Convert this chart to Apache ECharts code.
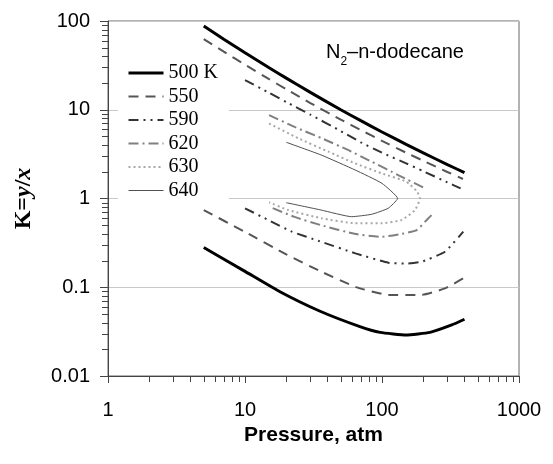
<!DOCTYPE html>
<html>
<head>
<meta charset="utf-8">
<script src="https://cdn.jsdelivr.net/npm/echarts@6/dist/echarts.min.js"></script>
<style>
html, body { margin: 0; padding: 0; background: #fff; }
#chart { width: 553px; height: 464px; }
</style>
</head>
<body>
<div id="chart"></div>
<script>
// isotherms: pressure (atm) and K = y/x, upper branch then lower branch
// null = gap between the two branches
const names = ['500 K', '550', '590', '620', '630', '640'];

const p500 = [5, 7, 10, 15, 20, 30, 50, 70, 100, 150, 200, 300, 400, null, 5, 10, 18, 35, 69, 97, 150, 224, 323, 400];
const k500 = [87.7, 62.4, 43.9, 29.7, 22.7, 15.7, 10.0, 7.54, 5.62, 4.07, 3.27, 2.41, 1.96, null, 0.28, 0.151, 0.089, 0.054, 0.036, 0.031, 0.029, 0.031, 0.0376, 0.0436];

const p550 = [5, 7, 10, 15, 20, 30, 50, 70, 100, 150, 200, 300, 390, null, 5, 10, 20, 35, 64, 111, 195, 288, 392];
const k550 = [62.6, 45.1, 32.2, 22.1, 17.0, 11.9, 7.75, 5.91, 4.46, 3.28, 2.66, 1.99, 1.66, null, 0.74, 0.42, 0.235, 0.153, 0.101, 0.082, 0.082, 0.097, 0.126];

const p590 = [10, 15, 20, 30, 50, 70, 100, 150, 200, 300, 375, null, 10, 15, 22, 35, 64, 111, 150, 195, 288, 392];
const k590 = [21.6, 15.5, 12.2, 8.8, 5.75, 4.3, 3.28, 2.49, 2.03, 1.52, 1.3, null, 0.776, 0.566, 0.423, 0.33, 0.241, 0.189, 0.185, 0.194, 0.251, 0.423];

const p620 = [15, 23, 36, 57, 84, 130, 206, null, 230, 218, 179, 140, 100, 63, 36, 23, 15];
const k620 = [8.7, 6.4, 4.8, 3.5, 2.6, 1.85, 1.3, null, 0.65, 0.6, 0.44, 0.40, 0.37, 0.40, 0.50, 0.62, 0.81];

const p630 = [15, 24.5, 40.6, 63.5, 99.5, 150, 180, 189, 174, 139, 100, 63.5, 36.3, 20.7, 15];
const k630 = [7.0, 4.77, 3.37, 2.49, 1.92, 1.55, 1.2, 1.0, 0.74, 0.573, 0.526, 0.526, 0.598, 0.74, 0.906];

const p640 = [20, 36, 63.5, 100, 130, 111, 84, 60, 36, 20];
const k640 = [4.3, 3.09, 2.1, 1.48, 1.0, 0.776, 0.664, 0.624, 0.741, 0.897];

// minor tick values of the log axes
const xMinorTicks = [2, 3, 4, 5, 6, 7, 8, 9, 20, 30, 40, 50, 60, 70, 80, 90, 200, 300, 400, 500, 600, 700, 800, 900];
const yMinorTicks = [0.02, 0.03, 0.04, 0.05, 0.06, 0.07, 0.08, 0.09, 0.2, 0.3, 0.4, 0.5, 0.6, 0.7, 0.8, 0.9,
  2, 3, 4, 5, 6, 7, 8, 9, 20, 30, 40, 50, 60, 70, 80, 90];

const X_MIN = 1, X_MAX = 1000, Y_MIN = 0.01, Y_MAX = 100;

function pairs(p, k) {
  return p.map((v, i) => (v == null ? ['-', '-'] : [v, k[i]]));
}

const styles = [
  { color: '#000000', width: 3, type: 'solid' },
  { color: '#555555', width: 2, type: [10, 7] },
  { color: '#333333', width: 2, type: [10, 5, 2, 5, 2, 5] },
  { color: '#808080', width: 2, type: [10, 4, 2, 4] },
  { color: '#a8a8a8', width: 2, type: [2, 3] },
  { color: '#505050', width: 1, type: 'solid' }
];
const datasets = [pairs(p500, k500), pairs(p550, k550), pairs(p590, k590),
  pairs(p620, k620), pairs(p630, k630), pairs(p640, k640)];

const lineSeries = names.map((n, i) => ({
  name: n,
  type: 'line',
  data: datasets[i],
  symbol: 'none',
  smooth: 0.15,
  connectNulls: false,
  color: styles[i].color,
  lineStyle: { color: styles[i].color, width: styles[i].width, type: styles[i].type },
  z: 3
}));

const tickColor = '#444';

const option = {
  animation: false,
  backgroundColor: '#fff',
  title: {
    text: '{n|N}{s|2}{n|–n-dodecane}',
    left: 326,
    top: 36,
    padding: 0,
    textStyle: {
      fontWeight: 'normal',
      rich: {
        n: { fontFamily: 'Liberation Sans', fontSize: 20, fontWeight: 'normal', lineHeight: 32, color: '#000' },
        s: { fontFamily: 'Liberation Sans', fontSize: 12, fontWeight: 'normal', lineHeight: 12, verticalAlign: 'bottom', color: '#000' }
      }
    }
  },
  grid: {
    left: 108, right: 34, top: 21, bottom: 88,
    show: true, borderColor: '#666', borderWidth: 1, backgroundColor: 'transparent'
  },
  legend: {
    data: names,
    orient: 'vertical',
    left: 118,
    top: 57,
    padding: [6, 11, 6, 9],
    itemWidth: 35,
    itemHeight: 14,
    itemGap: 3.5,
    backgroundColor: '#fff',
    itemStyle: { opacity: 0 },
    lineStyle: { width: 'inherit' },
    textStyle: { fontFamily: 'Liberation Serif', fontSize: 20, color: '#000' }
  },
  xAxis: {
    type: 'log',
    min: X_MIN, max: X_MAX,
    logBase: 10,
    name: 'Pressure, atm',
    nameLocation: 'middle',
    nameGap: 48,
    nameTextStyle: { fontFamily: 'Liberation Sans', fontSize: 21, fontWeight: 'bold', color: '#000' },
    axisLine: { lineStyle: { color: tickColor, width: 1 } },
    axisTick: { show: true, inside: false, length: 7, lineStyle: { color: tickColor } },
    axisLabel: {
      margin: 24, fontFamily: 'Liberation Sans', fontSize: 20, color: '#000',
      formatter: v => String(+v.toPrecision(3))
    },
    splitLine: { show: false }
  },
  yAxis: {
    type: 'log',
    min: Y_MIN, max: Y_MAX,
    logBase: 10,
    name: 'K={i|y}/{i|x}',
    nameLocation: 'middle',
    nameGap: 72,
    nameTextStyle: {
      fontFamily: 'Liberation Serif', fontSize: 24, fontWeight: 'bold', color: '#000',
      rich: { i: { fontFamily: 'Liberation Serif', fontSize: 24, fontWeight: 'bold', fontStyle: 'italic', color: '#000' } }
    },
    axisLine: { show: true, lineStyle: { color: tickColor, width: 1 } },
    axisTick: { show: true, inside: false, length: 8, lineStyle: { color: tickColor } },
    axisLabel: {
      margin: 18, fontFamily: 'Liberation Sans', fontSize: 20, color: '#000',
      formatter: v => String(+v.toPrecision(3))
    },
    splitLine: { show: true, lineStyle: { color: '#c8c8c8', width: 1 } }
  },
  series: [
    ...lineSeries,
    {
      type: 'custom',
      silent: true,
      z: 1,
      data: xMinorTicks.map(v => [v, Y_MIN]),
      renderItem: (params, api) => {
        const pt = api.coord([api.value(0), api.value(1)]);
        const x = Math.round(pt[0]) + 0.5;
        return { type: 'line', shape: { x1: x, y1: pt[1], x2: x, y2: pt[1] + 6 }, style: { stroke: tickColor, lineWidth: 1 } };
      }
    },
    {
      type: 'custom',
      silent: true,
      z: 1,
      data: yMinorTicks.map(v => [X_MIN, v]),
      renderItem: (params, api) => {
        const pt = api.coord([api.value(0), api.value(1)]);
        const y = Math.round(pt[1]) + 0.5;
        return { type: 'line', shape: { x1: pt[0] - 6, y1: y, x2: pt[0], y2: y }, style: { stroke: tickColor, lineWidth: 1 } };
      }
    }
  ]
};

const chart = echarts.init(document.getElementById('chart'), null, { renderer: 'canvas' });
chart.setOption(option);
</script>
</body>
</html>
